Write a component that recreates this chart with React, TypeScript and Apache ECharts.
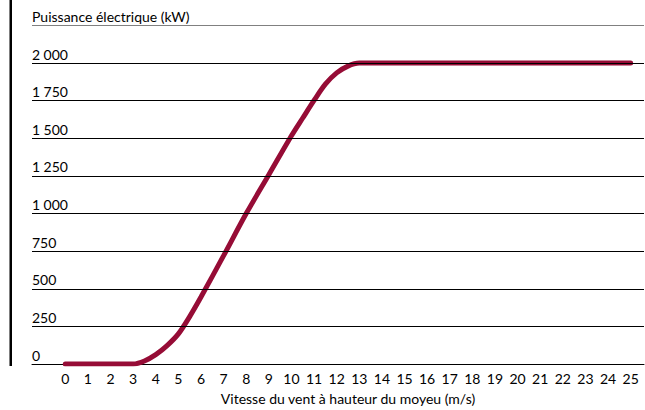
import React, { useEffect, useRef } from "react";
import * as echarts from "echarts";

const windSpeeds = [0, 1, 2, 3, 3.5, 4, 4.5, 5, 5.5, 6, 7, 8, 9, 10, 10.5, 11, 11.5, 12, 12.5, 13, 14, 15, 16, 17, 18, 19, 20, 21, 22, 23, 24, 25];
const powerKW = [0, 0, 0, 0, 20, 62, 122, 200, 315, 445, 720, 1000, 1258, 1517, 1635, 1752, 1860, 1935, 1980, 2000, 2000, 2000, 2000, 2000, 2000, 2000, 2000, 2000, 2000, 2000, 2000, 2000];
const xTickLabels = [0, 1, 2, 3, 4, 5, 6, 7, 8, 9, 10, 11, 12, 13, 14, 15, 16, 17, 18, 19, 20, 21, 22, 23, 24, 25];
const yTitle = "Puissance électrique (kW)";
const xTitle = "Vitesse du vent à hauteur du moyeu (m/s)";

const FONT = "Lato";

function fmt(v: number): string {
  if (v >= 1000) {
    const th = Math.floor(v / 1000);
    const rest = String(v % 1000).padStart(3, "0");
    return th + "\u202F" + rest;
  }
  return String(v);
}

export default function App() {
  const ref = useRef<HTMLDivElement>(null);
  useEffect(() => {
    if (!ref.current) return;
    const chart = echarts.init(ref.current, null, { renderer: "svg" });
    chart.setOption({
      animation: false,
      backgroundColor: "#fff",
      grid: { left: 32, right: 1, top: 25.5, bottom: 44.3, containLabel: false },
      graphic: [
        { type: "rect", shape: { x: 9.5, y: 0, width: 2.5, height: 366 }, style: { fill: "#000" } },
      ],
      xAxis: {
        type: "value",
        min: -1.472,
        max: 25.59,
        z: 0,
        axisLine: { show: true, lineStyle: { color: "#000", width: 1 } },
        axisTick: { show: false },
        splitLine: { show: false },
        axisLabel: {
          customValues: xTickLabels,
          color: "#000",
          fontFamily: FONT,
          fontSize: 14,
          margin: 7,
        },
        name: xTitle,
        nameLocation: "middle",
        nameGap: 27,
        nameTextStyle: { color: "#000", fontFamily: FONT, fontSize: 14, padding: [0, 0, 0, 20] },
      },
      yAxis: {
        type: "value",
        min: 0,
        max: 2250,
        interval: 250,
        z: 5,
        axisLine: { show: false },
        axisTick: { show: false },
        splitLine: {
          show: true,
          lineStyle: {
            color: ["transparent", "#000", "#000", "#000", "#000", "#000", "#000", "#000", "#000", "#808080"],
            width: 1,
          },
        },
        axisLabel: {
          inside: true,
          margin: 0,
          align: "left",
          verticalAlign: "bottom",
          padding: [0, 0, 2, 0],
          color: "#000",
          fontFamily: FONT,
          fontSize: 14,
          formatter: (v: number) => (v === 2250 ? yTitle : fmt(v)),
        },
      },
      series: [
        {
          type: "line",
          data: windSpeeds.map((s, i) => [s, powerKW[i]]),
          smooth: 0.3,
          showSymbol: false,
          symbol: "none",
          z: 2,
          lineStyle: { color: "#960C36", width: 5, cap: "round" },
        },
      ],
    });
    return () => chart.dispose();
  }, []);
  return (
    <div
      ref={ref}
      style={{ position: "fixed", left: 0, top: 0, width: 645, height: 410 }}
    />
  );
}
